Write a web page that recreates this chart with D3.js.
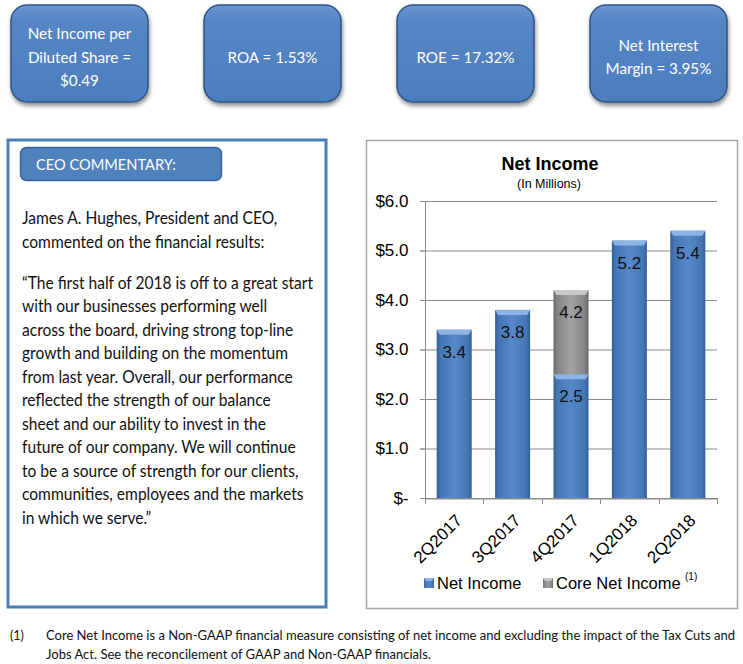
<!DOCTYPE html>
<html><head><meta charset="utf-8">
<script src="https://cdn.jsdelivr.net/npm/d3@7"></script>
<style>body{margin:0;background:#fff}svg{display:block}</style>
</head><body>
<script>
// ---- data ----
const kpiLines = [["Net Income per","Diluted Share =","$0.49"],["ROA = 1.53%"],["ROE = 17.32%"],["Net Interest","Margin = 3.95%"]];
const categories = ["2Q2017","3Q2017","4Q2017","1Q2018","2Q2018"];
const netIncome = [3.4,3.8,2.5,5.2,5.4];
const coreNetIncome = [null,null,4.2,null,null];
const yTicks = [0,1,2,3,4,5,6];
const yTickLabels = ["$-","$1.0","$2.0","$3.0","$4.0","$5.0","$6.0"];
const chartTitle = "Net Income";
const chartSubtitle = "(In Millions)";
const legendLabels = ["Net Income","Core Net Income"];
const ceoHeader = "CEO COMMENTARY:";
const ceoIntro = ["James A. Hughes, President and CEO,","commented on the financial results:"];
const ceoQuote = ["\u201CThe first half of 2018 is off to a great start","with our businesses performing well","across the board, driving strong top-line","growth and building on the momentum","from last year.  Overall, our performance","reflected the strength of our balance","sheet and our ability to invest in the","future of our company.  We will continue","to be a source of strength for our clients,","communities, employees and the markets","in which we serve.\u201D"];
const footnote = ["Core Net Income is a Non-GAAP financial measure consisting of net income and excluding the impact of the Tax Cuts and","Jobs Act.  See the reconcilement of GAAP and Non-GAAP financials."];

const W=743,H=664;
const svg=d3.select("body").append("svg").attr("width",W).attr("height",H);
const defs=svg.append("defs");
const bodyFont="Lato, 'Open Sans', sans-serif";
const chartFont="'Liberation Sans', Arial, sans-serif";

// gradients
function hgrad(id,stops){const g=defs.append("linearGradient").attr("id",id).attr("x1",0).attr("x2",1).attr("y1",0).attr("y2",0);
 stops.forEach(s=>g.append("stop").attr("offset",s[0]).attr("stop-color",s[1]));}
hgrad("gBlue",[[0,"#34609a"],[0.12,"#4676b4"],[0.5,"#5689c9"],[0.88,"#4676b4"],[1,"#34609a"]]);
hgrad("gGray",[[0,"#6a6a6a"],[0.12,"#858585"],[0.5,"#a3a3a3"],[0.88,"#858585"],[1,"#6a6a6a"]]);
const vg=defs.append("linearGradient").attr("id","gBox").attr("x1",0).attr("x2",0).attr("y1",0).attr("y2",1);
vg.append("stop").attr("offset",0).attr("stop-color","#6a98d2");
vg.append("stop").attr("offset",0.15).attr("stop-color","#5586c4");
vg.append("stop").attr("offset",1).attr("stop-color","#4c7dbd");
const sh=defs.append("filter").attr("id","shadow").attr("x","-20%").attr("y","-20%").attr("width","140%").attr("height","140%");
sh.append("feDropShadow").attr("dx",1).attr("dy",3).attr("stdDeviation",2).attr("flood-color","#000").attr("flood-opacity",0.45);

// compress helper: scale text widths by factor
function fitLines(sel,factor){sel.each(function(){const l=this.getComputedTextLength();d3.select(this).attr("textLength",l*factor).attr("lengthAdjust","spacingAndGlyphs");});}

// ---- KPI boxes ----
const boxX=[11,204,397,590];
const kg=svg.append("g");
kpiLines.forEach((lines,i)=>{
  const g=kg.append("g").attr("transform",`translate(${boxX[i]},5)`);
  g.append("rect").attr("width",137).attr("height",97).attr("rx",16).attr("fill","url(#gBox)").attr("stroke","#2f5588").attr("stroke-width",1.5).attr("filter","url(#shadow)");
  const n=lines.length;
  lines.forEach((t,j)=>{
    g.append("text").attr("class","kpi").attr("x",68.5).attr("y",52+(j-(n-1)/2)*23.5+5.5).attr("text-anchor","middle")
     .attr("font-family",bodyFont).attr("font-size",16).attr("fill","#fff").text(t);
  });
});
const kpiRef=kg.selectAll("text.kpi").filter(function(){return this.textContent==="ROA = 1.53%";}).node();
const kpiFactor=90/kpiRef.getComputedTextLength();
fitLines(kg.selectAll("text.kpi"),kpiFactor);

// ---- CEO panel ----
svg.append("rect").attr("x",8).attr("y",140).attr("width",318).attr("height",467).attr("fill","#fff").attr("stroke","#4a7ebb").attr("stroke-width",3);
svg.append("rect").attr("x",20.5).attr("y",147.5).attr("width",201).attr("height",33).attr("rx",6).attr("fill","#4f81bd").attr("stroke","#3a6596").attr("stroke-width",1.5);
const hdr=svg.append("text").attr("x",36).attr("y",170).attr("font-family",bodyFont).attr("font-size",15.5).attr("fill","#fff").text(ceoHeader);
fitLines(hdr,140/hdr.node().getComputedTextLength());
const ceoG=svg.append("g").attr("font-family",bodyFont).attr("font-size",16.5).attr("fill","#111");
ceoIntro.forEach((t,i)=>ceoG.append("text").attr("x",22).attr("y",224+i*24).text(t));
ceoQuote.forEach((t,i)=>ceoG.append("text").attr("x",22).attr("y",288.5+i*23.5).text(t));
const ceoRef=ceoG.selectAll("text").filter(function(){return this.textContent===ceoQuote[0];}).node();
fitLines(ceoG.selectAll("text"),291/ceoRef.getComputedTextLength());

// ---- Chart panel ----
svg.append("rect").attr("x",366.5).attr("y",140.5).attr("width",371).attr("height",468).attr("fill","#fff").attr("stroke","#a6a6a6").attr("stroke-width",1.5);
svg.append("text").attr("x",550).attr("y",170).attr("text-anchor","middle").attr("font-family",chartFont).attr("font-weight","bold").attr("font-size",18).attr("fill","#000").text(chartTitle);
svg.append("text").attr("x",549).attr("y",187.5).attr("text-anchor","middle").attr("font-family",chartFont).attr("font-size",12.5).attr("fill","#000").text(chartSubtitle);

const x=d3.scaleBand().domain(categories).range([425,717]).paddingInner(0.4).paddingOuter(0.2);
const y=d3.scaleLinear().domain([0,6]).range([498,201]);

// gridlines
svg.append("g").selectAll("line").data(yTicks).join("line")
  .attr("x1",420).attr("x2",717).attr("y1",d=>y(d)+0.5).attr("y2",d=>y(d)+0.5).attr("stroke","#8a8a8a").attr("stroke-width",1);
// y axis
const yAxis=svg.append("g").attr("transform","translate(425.5,0)")
  .call(d3.axisLeft(y).tickValues(yTicks).tickFormat((d,i)=>yTickLabels[i]).tickSize(5).tickPadding(12));
yAxis.select(".domain").attr("stroke","#8a8a8a").attr("d",`M0,${y(6)}V${y(0)}`);
yAxis.selectAll(".tick line").attr("stroke","#8a8a8a");
yAxis.selectAll("text").attr("font-family",chartFont).attr("font-size",17).attr("fill","#000");
// x axis
const xAxis=svg.append("g").attr("transform",`translate(0,${y(0)+0.5})`).call(d3.axisBottom(x).tickSize(0).tickFormat(d=>d));
xAxis.select(".domain").attr("stroke","#8a8a8a");
xAxis.selectAll("text").attr("font-family",chartFont).attr("font-size",17).attr("fill","#000")
  .attr("text-anchor","end").attr("dy",0).attr("transform","translate(9,23) rotate(-45)").attr("y",0).attr("x",0);
// boundary ticks
const bounds=categories.map(c=>x(c)-x.step()*x.paddingInner()/2).concat([x(categories[4])+x.bandwidth()+x.step()*x.paddingInner()/2]);
svg.append("g").selectAll("line").data(bounds).join("line")
  .attr("x1",d=>Math.round(d)+0.5).attr("x2",d=>Math.round(d)+0.5).attr("y1",y(0)).attr("y2",y(0)+6).attr("stroke","#8a8a8a");

// bars
function bar(g,x0,w,top,bottom,fill,cap){
  g.append("rect").attr("x",x0).attr("y",top).attr("width",w).attr("height",bottom-top).attr("fill",`url(#${fill})`);
  g.append("path").attr("d",`M${x0},${top}L${x0+w},${top}L${x0+w-3},${top+5}L${x0+3},${top+5}Z`).attr("fill",cap);
}
const bg=svg.append("g");
categories.forEach((c,i)=>{
  const bx=x(c),bw=x.bandwidth();
  bar(bg,bx,bw,y(netIncome[i]),y(0),"gBlue","#8cb4e6");
  if(coreNetIncome[i]!=null) bar(bg,bx,bw,y(coreNetIncome[i]),y(netIncome[i]),"gGray","#c9c9c9");
});
const lg=svg.append("g").attr("font-family",chartFont).attr("font-size",17).attr("fill","#111").attr("text-anchor","middle");
categories.forEach((c,i)=>{
  const cx=x(c)+x.bandwidth()/2;
  lg.append("text").attr("x",cx).attr("y",y(netIncome[i])+28).text(netIncome[i].toFixed(1));
  if(coreNetIncome[i]!=null) lg.append("text").attr("x",cx).attr("y",y(coreNetIncome[i])+28).text(coreNetIncome[i].toFixed(1));
});

// legend
const leg=svg.append("g").attr("font-family",chartFont).attr("font-size",16.5).attr("fill","#000");
leg.append("rect").attr("x",424).attr("y",578).attr("width",10).attr("height",10).attr("fill","url(#gBlue)");
leg.append("path").attr("d","M424,578h10l-2,3h-6z").attr("fill","#8cb4e6");
leg.append("text").attr("x",437).attr("y",589).text(legendLabels[0]);
leg.append("rect").attr("x",543).attr("y",578).attr("width",10).attr("height",10).attr("fill","url(#gGray)");
leg.append("path").attr("d","M543,578h10l-2,3h-6z").attr("fill","#c9c9c9");
const cl=leg.append("text").attr("x",556).attr("y",589).text(legendLabels[1]);
leg.append("text").attr("x",685).attr("y",580).attr("font-size",10).text("(1)");

// footnote
const fg=svg.append("g").attr("font-family",bodyFont).attr("font-size",12.5).attr("fill","#111");
fg.append("text").attr("x",10).attr("y",640).text("(1)");
footnote.forEach((t,i)=>fg.append("text").attr("class","fn").attr("x",46).attr("y",640+18.5*i).text(t));
const fnRef=fg.select("text.fn").node();
fitLines(fg.selectAll("text.fn"),689/fnRef.getComputedTextLength());
</script>
</body></html>
